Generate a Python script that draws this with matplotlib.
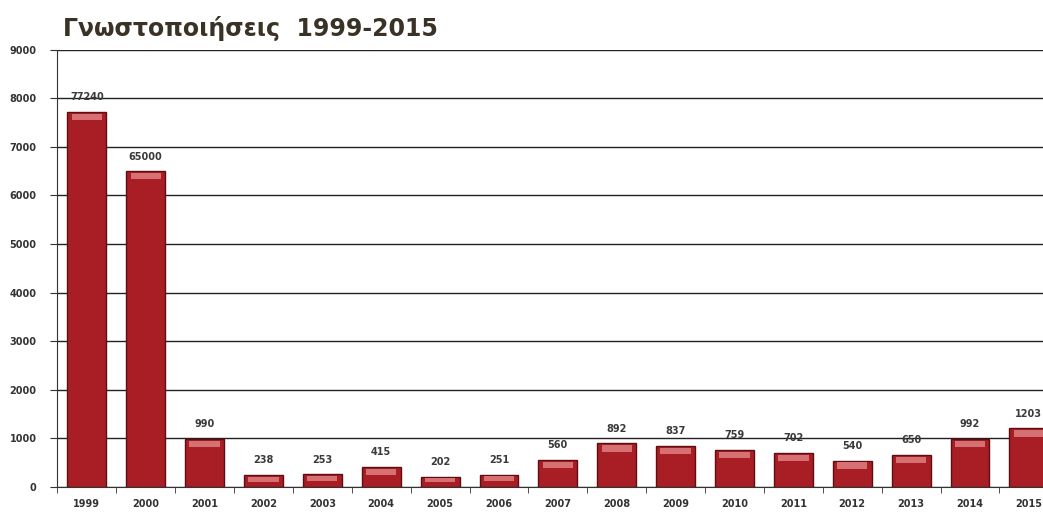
import numpy as np
import matplotlib.pyplot as plt

# ===================== data =====================
years = ['1999', '2000', '2001', '2002', '2003', '2004', '2005', '2006', '2007',
         '2008', '2009', '2010', '2011', '2012', '2013', '2014', '2015']
values = [7724, 6500, 990, 238, 253, 415, 202, 251, 560,
          892, 837, 759, 702, 540, 650, 992, 1203]
value_labels = ['77240', '65000', '990', '238', '253', '415', '202', '251', '560',
                '892', '837', '759', '702', '540', '650', '992', '1203']
y_ticks = [0, 1000, 2000, 3000, 4000, 5000, 6000, 7000, 8000, 9000]
title = 'Γνωστοποιήσεις  1999-2015'

plt.rcParams['font.family'] = ['DejaVu Sans']

fig = plt.figure(figsize=(10.43, 5.14), dpi=100)
ax = fig.add_axes([0.055, 0.053, 0.945, 0.85])

x = np.arange(len(years))
w = 0.66

# main body of the bars
ax.bar(x, values, width=w, color='#a81e24', edgecolor='#5e0d11', linewidth=1.0, zorder=3)
# lighter cap to mimic the glossy top
vals = np.array(values, dtype=float)
cap = np.minimum(130, vals * 0.4)
ax.bar(x, cap, width=w * 0.78, bottom=vals - cap - np.minimum(40, vals * 0.15),
       color='#dc7a7c', linewidth=0, zorder=4, alpha=0.9)

# value labels
for xi, v, lab in zip(x, values, value_labels):
    ax.text(xi, v + 200, lab, ha='center', va='bottom', fontsize=7,
            fontweight='bold', color='#3a3a3a', zorder=5)

ax.set_xlim(-0.5, 16.24)
ax.set_ylim(0, 9000)
ax.set_yticks(y_ticks)
ax.set_yticklabels([str(t) for t in y_ticks], fontsize=7, fontweight='bold', color='#333333')
ax.set_xticks(x)
ax.set_xticklabels(years, fontsize=7, fontweight='bold', color='#333333')
ax.tick_params(axis='x', length=0, pad=9)
ax.set_xticks(np.arange(-0.5, 16.5, 1), minor=True)
ax.tick_params(axis='x', which='minor', length=4, direction='out', color='#333333')
ax.tick_params(axis='y', length=5, direction='out', color='#333333', pad=10)

ax.grid(axis='y', color='#222222', linewidth=1.0, zorder=0)
ax.set_axisbelow(True)
for side in ['top', 'right']:
    ax.spines[side].set_visible(False)
ax.spines['left'].set_color('#333333')
ax.spines['bottom'].set_color('#333333')

fig.text(0.06, 0.945, title, fontsize=17, fontweight='bold', color='#3a3226',
         ha='left', va='center')

fig.savefig('out.png', dpi=100)
